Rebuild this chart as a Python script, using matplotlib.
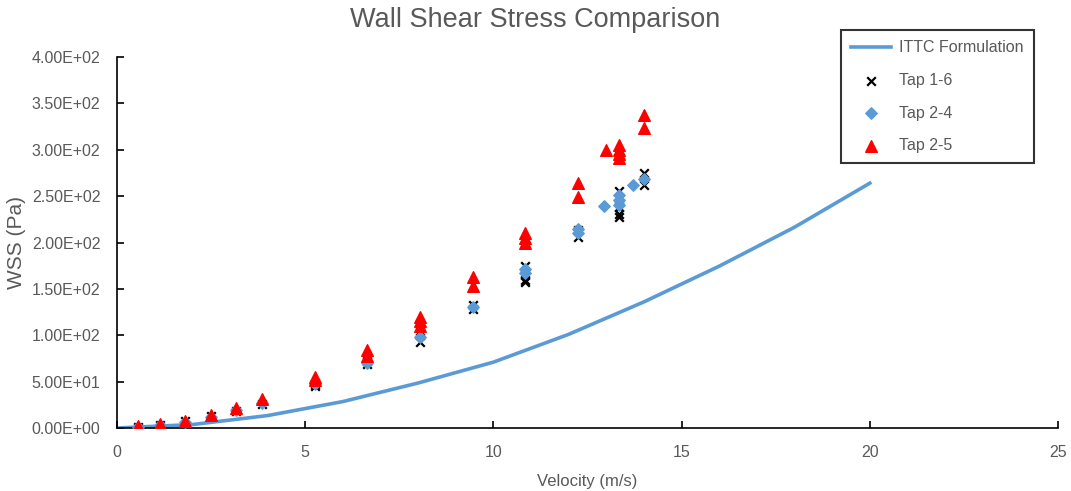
import numpy as np
import matplotlib.pyplot as plt
from matplotlib.ticker import FormatStrFormatter

plt.rcParams['font.family'] = ['Liberation Sans', 'DejaVu Sans']

# ITTC friction line
ittc_v = [0, 2, 4, 6, 8, 10, 12, 14, 16, 18, 20]
ittc_wss = [0, 3.7, 13.4, 28.5, 48.5, 71.0, 101.0, 136.0, 174.5, 216.5, 264.0]

# pressure tap measurements
tap16_v = [0.55, 1.15, 1.8, 2.5, 3.15, 3.85, 5.25, 5.25, 6.65, 6.65, 8.05, 8.05, 8.05,
           9.45, 9.45, 10.85, 10.85, 10.85, 10.85, 12.25, 12.25,
           13.35, 13.35, 13.35, 13.35, 13.35, 14.0, 14.0]
tap16_wss = [1, 3, 8, 13, 18, 26, 45, 47, 69, 72, 93, 100, 105,
             128, 133, 157, 160, 166, 175, 206, 213,
             227, 231, 238, 248, 256, 262, 275]

tap24_v = [0.55, 1.15, 1.8, 2.5, 3.15, 3.85, 5.25, 6.65, 8.05, 9.45, 10.85, 10.85,
           12.25, 12.25, 12.94, 13.35, 13.35, 13.35, 13.7, 14.0]
tap24_wss = [1, 3, 6, 12, 19, 27, 47, 70, 98, 131, 167, 171,
             210, 215, 239, 240, 246, 251, 262, 268]

tap25_v = [0.55, 1.15, 1.8, 2.5, 3.15, 3.85, 5.25, 5.25, 6.65, 6.65, 8.05, 8.05, 8.05,
           9.45, 9.45, 10.85, 10.85, 10.85, 12.25, 12.25, 13.0,
           13.35, 13.35, 13.35, 13.35, 14.0, 14.0]
tap25_wss = [2, 4, 8, 14, 22, 31, 55, 52, 84, 78, 120, 115, 110,
             163, 153, 210, 205, 200, 264, 249, 300,
             305, 300, 295, 291, 337, 323]

fig = plt.figure(figsize=(10.71, 4.91), dpi=100)
ax = fig.add_axes([0.1092, 0.1283, 0.8787, 0.7556])

ax.plot(ittc_v, ittc_wss, color='#5B9BD5', lw=2.6, label='ITTC Formulation', zorder=2)
ax.scatter(tap16_v, tap16_wss, marker='x', s=38, color='black', linewidths=1.6,
           label='Tap 1-6', zorder=3)
ax.scatter(tap24_v, tap24_wss, marker='D', s=34, color='#5B9BD5',
           label='Tap 2-4', zorder=4)
ax.scatter(tap25_v, tap25_wss, marker='^', s=70, color='#FF0000',
           label='Tap 2-5', zorder=5)

ax.set_xlim(0, 25)
ax.set_ylim(0, 400)
ax.set_xticks(range(0, 26, 5))
ax.set_yticks(range(0, 401, 50))
ax.yaxis.set_major_formatter(FormatStrFormatter('%.2E'))

for s in ['top', 'right']:
    ax.spines[s].set_visible(False)
for s in ['left', 'bottom']:
    ax.spines[s].set_color('black')
    ax.spines[s].set_linewidth(1.2)
ax.tick_params(direction='in', length=5, width=1.2, colors='black',
               labelcolor='#595959', labelsize=11.5)
ax.tick_params(axis='y', pad=12)
ax.tick_params(axis='x', pad=12)

ax.set_xlabel('Velocity (m/s)', color='#595959', fontsize=12, labelpad=10)
ax.set_ylabel('WSS (Pa)', color='#595959', fontsize=15, labelpad=4)
fig.suptitle('Wall Shear Stress Comparison', color='#595959', fontsize=19.5, y=0.985)

leg = ax.legend(loc='upper left', bbox_to_anchor=(841 / 1071, 1 - 30 / 491),
                bbox_transform=fig.transFigure, borderaxespad=0, frameon=True,
                fancybox=False, edgecolor='black', fontsize=11.5, labelspacing=1.1,
                handlelength=2.5, handletextpad=0.5, borderpad=0.65, scatterpoints=1)
leg.get_frame().set_linewidth(1.5)
for t in leg.get_texts():
    t.set_color('#595959')

fig.savefig('out.png', dpi=100)
